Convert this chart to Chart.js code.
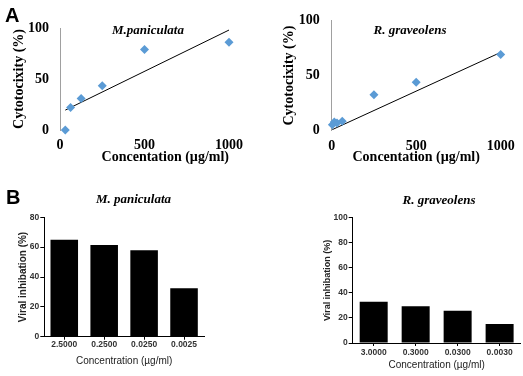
<!DOCTYPE html>
<html>
<head>
<meta charset="utf-8">
<script src="https://cdn.jsdelivr.net/npm/chart.js@4.4.0/dist/chart.umd.min.js"></script>
<style>
  body { margin: 0; background: #fff; }
  #page { position: relative; width: 523px; height: 376px; overflow: hidden; }
  canvas { position: absolute; }
  .panel-letter { position: absolute; font: bold 20px 'Liberation Sans', Arial, sans-serif; line-height: 1; color: #000; }
</style>
</head>
<body>
<div id="page">
  <canvas id="cytoMp" width="262" height="172" style="left:0;top:0"></canvas>
  <canvas id="cytoRg" width="261" height="172" style="left:262px;top:0"></canvas>
  <canvas id="viralMp" width="262" height="196" style="left:0;top:180px"></canvas>
  <canvas id="viralRg" width="261" height="196" style="left:262px;top:180px"></canvas>
  <div class="panel-letter" style="left:5px;top:5px">A</div>
  <div class="panel-letter" style="left:6px;top:187px">B</div>
</div>
<script>
// cytotoxicity (panel A)
const mpConc = [31.25, 62.5, 125, 250, 500, 1000];
const mpCyto = [0, 22, 31, 43.5, 79, 86];
const mpTrendX = [31.25, 1000];
const mpTrendY = [19.5, 98];

const rgConc = [3.9, 15.6, 31.25, 62.5, 250, 500, 1000];
const rgCyto = [5.5, 8, 7, 8.5, 32.5, 44, 69];
const rgTrendX = [3.9, 1000];
const rgTrendY = [1, 71];

// viral inhibition (panel B)
const mpDoses = ['2.5000', '0.2500', '0.0250', '0.0025'];
const mpInhibition = [65, 61.5, 58, 32.5];
const rgDoses = ['3.0000', '0.3000', '0.0300', '0.0030'];
const rgInhibition = [33, 29.3, 25.8, 15.2];

const serif = "'Liberation Serif', 'Times New Roman', serif";
const sans = "'Liberation Sans', Arial, sans-serif";

// species name drawn inside / above the plot
const panelTitle = {
  id: 'panelTitle',
  afterDraw(chart, args, opts) {
    const ctx = chart.ctx;
    ctx.save();
    ctx.font = 'italic bold 13px ' + serif;
    ctx.fillStyle = '#000';
    ctx.textAlign = 'center';
    ctx.textBaseline = 'middle';
    ctx.fillText(opts.text, opts.x, opts.y);
    ctx.restore();
  }
};

function toPoints(xs, ys) {
  return xs.map((x, i) => ({ x: x, y: ys[i] }));
}

function cytoChart(id, conc, cyto, trendX, trendY, title, g) {
  const tickFont = { family: serif, size: 14, weight: 'bold' };
  const titleFont = { family: serif, size: 14, weight: 'bold' };
  return new Chart(document.getElementById(id), {
    type: 'scatter',
    data: {
      datasets: [{
        data: toPoints(conc, cyto),
        pointStyle: 'rectRot',
        pointRadius: 4.5,
        backgroundColor: '#5b9bd5',
        borderWidth: 0,
        clip: false
      }, {
        data: toPoints(trendX, trendY),
        showLine: true,
        pointRadius: 0,
        borderColor: '#000',
        borderWidth: 1
      }]
    },
    options: {
      responsive: false,
      animation: false,
      layout: { padding: { left: 0, right: g.right, top: g.top, bottom: 0 } },
      plugins: {
        legend: { display: false },
        tooltip: { enabled: false },
        panelTitle: { text: title, x: g.titleX, y: g.titleY }
      },
      scales: {
        x: {
          type: 'linear', min: 0, max: 1000,
          ticks: { stepSize: 500, padding: 7, color: '#000', font: tickFont, callback: v => String(v) },
          grid: { drawOnChartArea: false, drawTicks: false },
          border: { display: false },
          title: { display: true, text: 'Concentation (µg/ml)', align: g.xTitleAlign, color: '#000', font: titleFont, padding: { top: 0, bottom: 6.6 } },
          afterFit: s => { s.height = g.xHeight; }
        },
        y: {
          min: 0, max: 100,
          ticks: { stepSize: 50, padding: g.yTickPad, color: '#000', font: tickFont },
          grid: { drawOnChartArea: false, drawTicks: false },
          border: { color: '#a0a0a0' },
          title: { display: true, text: 'Cytotocixity (%)', color: '#000', font: titleFont, padding: { top: g.yTitlePad, bottom: 0 } },
          afterFit: s => { s.width = g.yWidth; }
        }
      }
    },
    plugins: [panelTitle]
  });
}

function viralChart(id, doses, inhibition, yMax, title, g) {
  const tickFont = { family: sans, size: 8.5, weight: 'bold' };
  return new Chart(document.getElementById(id), {
    type: 'bar',
    data: {
      labels: doses,
      datasets: [{
        data: inhibition,
        backgroundColor: '#000',
        borderWidth: 0,
        categoryPercentage: 1,
        barPercentage: g.barPct
      }]
    },
    options: {
      responsive: false,
      animation: false,
      layout: { padding: { left: 0, right: g.right, top: g.top, bottom: 0 } },
      plugins: {
        legend: { display: false },
        tooltip: { enabled: false },
        panelTitle: { text: title, x: g.titleX, y: g.titleY }
      },
      scales: {
        x: {
          ticks: { padding: g.xTickPad, color: '#333', font: tickFont, maxRotation: 0, autoSkip: false },
          grid: { drawOnChartArea: false, offset: false, tickLength: 3, color: '#000' },
          border: { color: '#000' },
          title: { display: true, text: 'Concentration (µg/ml)', color: '#222', font: { family: sans, size: 10 }, padding: { top: 0, bottom: g.xTitlePad } },
          afterFit: s => { s.height = g.xHeight; }
        },
        y: {
          min: 0, max: yMax,
          ticks: { stepSize: 20, padding: 1, color: '#333', font: tickFont },
          grid: { drawOnChartArea: false, tickLength: 4, color: '#000' },
          border: { color: '#000' },
          title: { display: true, text: 'Viral inhibation (%)', color: '#222', font: { family: sans, size: g.yTitleSize, weight: 'bold' }, padding: { top: g.yTitlePad, bottom: 0 } },
          afterFit: s => { s.width = g.yWidth; }
        }
      }
    },
    plugins: [panelTitle]
  });
}

cytoChart('cytoMp', mpConc, mpCyto, mpTrendX, mpTrendY, 'M.paniculata', {
  right: 33, top: 28, xHeight: 42, yWidth: 60, yTickPad: 11, yTitlePad: 11,
  titleX: 148, titleY: 30.7, xTitleAlign: 'end'
});
cytoChart('cytoRg', rgConc, rgCyto, rgTrendX, rgTrendY, 'R. graveolens', {
  right: 22.3, top: 18.3, xHeight: 41.3, yWidth: 69.7, yTickPad: 12, yTitlePad: 18.6,
  titleX: 148, titleY: 30.7, xTitleAlign: 'center'
});
viralChart('viralMp', mpDoses, mpInhibition, 80, 'M. paniculata', {
  right: 58, top: 37.3, xHeight: 39.3, yWidth: 44.3, yTitlePad: 17.5, yTitleSize: 10,
  barPct: 0.69, xTickPad: 0, xTitlePad: 8.3, titleX: 133.5, titleY: 20
});
viralChart('viralRg', rgDoses, rgInhibition, 100, 'R. graveolens', {
  right: 2.4, top: 37.7, xHeight: 33, yWidth: 90.7, yTitlePad: 60.6, yTitleSize: 9,
  barPct: 0.667, xTickPad: 2, xTitlePad: 5, titleX: 177, titleY: 20.7
});
</script>
</body>
</html>
